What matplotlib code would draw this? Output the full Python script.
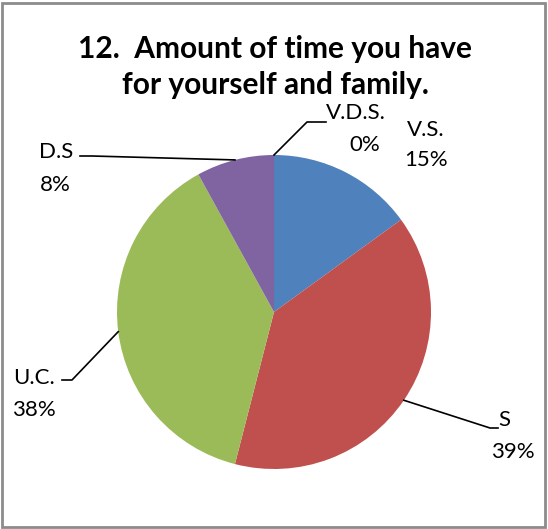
import matplotlib
matplotlib.use("Agg")
import matplotlib.pyplot as plt
import numpy as np

labels = ["V.S.", "S", "U.C.", "D.S", "V.D.S."]
values = [15, 39, 38, 8, 0]
colors = ["#4F81BD", "#C0504D", "#9BBB59", "#8064A2", "#F79646"]

W, H = 548, 529
fig = plt.figure(figsize=(W / 100, H / 100), dpi=100)
ax = fig.add_axes([0, 0, 1, 1])

cx, cy, r = 274, H - 312, 157
wedges, _ = ax.pie(values, colors=colors, startangle=90, counterclock=False,
                   center=(cx, cy), radius=r, frame=True,
                   wedgeprops=dict(linewidth=0))
ax.set_xlim(0, W)
ax.set_ylim(0, H)
ax.set_aspect("equal")
ax.axis("off")

font = "Lato"
ax.text(W / 2 + 1, H - 49, "12.  Amount of time you have", ha="center", va="center",
        fontsize=21.5, fontweight="bold", family=font)
ax.text(W / 2 + 1, H - 85, "for yourself and family.", ha="center", va="center",
        fontsize=21.5, fontweight="bold", family=font)

total = sum(values)
pcts = [f"{round(v / total * 100)}%" for v in values]

# label positions (pixel coords, y from top) and leader elbows
pos = {
    "V.S.": ((426, 130), (426, 160), None),
    "S": ((504, 420), (513, 452), [(490, 428), (498, 428)]),
    "U.C.": ((34, 378), (34, 410), [(72, 380), (62, 380)]),
    "D.S": ((56, 152), (55, 185), [(92, 156), (80, 156)]),
    "V.D.S.": ((356, 113), (365, 145), [(307, 122), (326, 122)]),
}

for w, lab, pct in zip(wedges, labels, pcts):
    (lx, ly), (px, py), elbow = pos[lab]
    ax.text(lx, H - ly, lab, ha="center", va="center", fontsize=16, family=font)
    ax.text(px, H - py, pct, ha="center", va="center", fontsize=16, family=font)
    if elbow:
        ang = np.deg2rad((w.theta1 + w.theta2) / 2)
        ex, ey = cx + r * np.cos(ang), cy + r * np.sin(ang)
        xs = [ex] + [p[0] for p in elbow]
        ys = [ey] + [H - p[1] for p in elbow]
        ax.plot(xs, ys, color="black", lw=1.2)

border = plt.Rectangle((2, 2), W - 5, H - 5, fill=False, edgecolor="#8c8c8c", lw=2)
ax.add_patch(border)

fig.savefig("out.png", dpi=100)
